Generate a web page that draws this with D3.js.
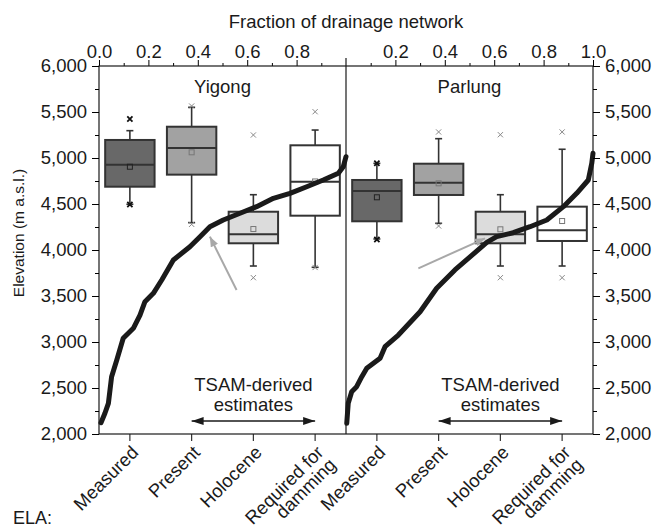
<!DOCTYPE html>
<html>
<head>
<meta charset="utf-8">
<script src="https://cdn.jsdelivr.net/npm/d3@7"></script>
<style>
body { margin: 0; background: #fff; }
text { font-family: "Liberation Sans", Arial, Helvetica, sans-serif; fill: #1a1a1a; }
</style>
</head>
<body>
<script>
var w = 657;
var h = 527;

var panels = ["Yigong", "Parlung"];
var categories = ["Measured", "Present", "Holocene", "Required for damming"];
var boxFills = ["#686868", "#a2a2a2", "#dcdcdc", "#ffffff"];

// [whisker low, q1, median, q3, whisker high, mean]
var yigongStats = [
  [4497, 4688, 4927, 5196, 5297, 4905],
  [4297, 4819, 5109, 5340, 5551, 5062],
  [3826, 4073, 4170, 4416, 4601, 4228],
  [3812, 4373, 4742, 5138, 5304, 4745]
];
var yigongOutliers = [[5424, 4495], [5565, 4279], [5250, 3699], [5503, 3810]];

var parlungStats = [
  [4120, 4312, 4641, 4761, 4942, 4573],
  [4290, 4598, 4732, 4938, 5210, 4725],
  [3826, 4073, 4170, 4416, 4601, 4225],
  [3826, 4098, 4214, 4471, 5095, 4315]
];
var parlungOutliers = [[4942, 4115], [5283, 4261], [5253, 3699], [5283, 3699]];

// hypsometric curves: fraction of drainage network vs elevation
var yigongFraction = [0.008, 0.024, 0.038, 0.051, 0.072, 0.098, 0.139, 0.166, 0.186, 0.220, 0.254, 0.301, 0.368, 0.409, 0.449, 0.503, 0.571, 0.638, 0.706, 0.773, 0.841, 0.908, 0.969, 0.989, 1.0];
var yigongElevation = [2123, 2225, 2333, 2623, 2804, 3040, 3149, 3293, 3438, 3529, 3674, 3891, 4036, 4145, 4253, 4326, 4399, 4471, 4562, 4616, 4688, 4761, 4834, 4905, 5014];
var parlungFraction = [0.003, 0.009, 0.023, 0.043, 0.064, 0.084, 0.138, 0.158, 0.212, 0.300, 0.367, 0.441, 0.515, 0.570, 0.610, 0.677, 0.745, 0.813, 0.880, 0.934, 0.981, 0.995, 1.0];
var parlungElevation = [2116, 2334, 2460, 2514, 2623, 2714, 2823, 2949, 3076, 3329, 3584, 3783, 3955, 4082, 4145, 4188, 4253, 4326, 4471, 4616, 4761, 4942, 5051];

// grey arrows [fraction, elevation] tail -> tip
var yigongArrow = [[0.557, 3565], [0.449, 4145]];
var parlungArrow = [[0.293, 3801], [0.563, 4127]];

var yTicks = d3.range(2000, 6001, 500);
var yMinor = d3.range(2250, 6000, 500);

var margin = {left: 99, right: 64, top: 66, bottom: 93};
var fs = 18.5;

var svg = d3.select("body").append("svg")
            .attr("width", w)
            .attr("height", h);

var defs = svg.append("defs");
defs.append("marker")
    .attr("id", "greyHead")
    .attr("viewBox", "0 0 10 8")
    .attr("refX", 10).attr("refY", 4)
    .attr("markerWidth", 10).attr("markerHeight", 8)
    .attr("markerUnits", "userSpaceOnUse")
    .attr("orient", "auto")
    .append("path").attr("d", "M0,0L10,4L0,8z").attr("fill", "#a8a8a8");
defs.append("marker")
    .attr("id", "blackHead")
    .attr("viewBox", "0 0 12 8")
    .attr("refX", 12).attr("refY", 4)
    .attr("markerWidth", 12).attr("markerHeight", 8)
    .attr("markerUnits", "userSpaceOnUse")
    .attr("orient", "auto-start-reverse")
    .append("path").attr("d", "M0,0L12,4L0,8z").attr("fill", "#1a1a1a");

var y = d3.scaleLinear()
          .domain([2000, 6000])
          .range([h - margin.bottom, margin.top]);

var panelX = d3.scaleBand()
               .domain(panels)
               .range([margin.left, w - margin.right]);

// Boxes and curves for one panel
function drawPanel(name, stats, outliers, frac, elev, arrow) {
  var x0 = panelX(name);
  var x1 = x0 + panelX.bandwidth();
  var xf = d3.scaleLinear().domain([0, 1]).range([x0, x1]);
  var xb = d3.scaleBand().domain(categories).range([x0, x1])
             .paddingInner(0.2).paddingOuter(0.1);
  var g = svg.append("g");
  var bw = xb.bandwidth();

  categories.forEach(function(c, i) {
    var s = stats[i];
    var cx = xb(c) + bw / 2;
    var dark = i == 0;
    // whiskers
    g.append("line").attr("x1", cx).attr("x2", cx)
     .attr("y1", y(s[0])).attr("y2", y(s[4]))
     .attr("stroke", "#333").attr("stroke-width", 1.6);
    [s[0], s[4]].forEach(function(v) {
      g.append("line").attr("x1", cx - 3.5).attr("x2", cx + 3.5)
       .attr("y1", y(v)).attr("y2", y(v))
       .attr("stroke", "#333").attr("stroke-width", 1.6);
    });
    // box
    g.append("rect")
     .attr("x", xb(c)).attr("width", bw)
     .attr("y", y(s[3])).attr("height", y(s[1]) - y(s[3]))
     .attr("fill", boxFills[i])
     .attr("stroke", "#333").attr("stroke-width", 2);
    g.append("line").attr("x1", xb(c)).attr("x2", xb(c) + bw)
     .attr("y1", y(s[2])).attr("y2", y(s[2]))
     .attr("stroke", "#333").attr("stroke-width", 2);
    // mean
    g.append("rect")
     .attr("x", cx - 2.5).attr("y", y(s[5]) - 2.5)
     .attr("width", 5).attr("height", 5)
     .attr("fill", "none")
     .attr("stroke", dark ? "#222" : "#777").attr("stroke-width", 1);
    // outliers
    outliers[i].forEach(function(v) {
      var r = 2.6, yy = y(v);
      g.append("path")
       .attr("d", "M" + (cx - r) + "," + (yy - r) + "L" + (cx + r) + "," + (yy + r) +
                  "M" + (cx - r) + "," + (yy + r) + "L" + (cx + r) + "," + (yy - r))
       .attr("stroke", dark ? "#111" : "#888")
       .attr("stroke-width", dark ? 1.8 : 1);
    });
  });

  // panel title
  g.append("text")
   .attr("x", (x0 + x1) / 2).attr("y", 93)
   .attr("text-anchor", "middle")
   .attr("font-size", fs)
   .text(name);

  // TSAM note
  var xm = xb(categories[2]) + bw / 2;
  g.append("text").attr("x", xm).attr("y", 391)
   .attr("text-anchor", "middle").attr("font-size", fs).text("TSAM-derived");
  g.append("text").attr("x", xm).attr("y", 411)
   .attr("text-anchor", "middle").attr("font-size", fs).text("estimates");
  g.append("line")
   .attr("x1", xb(categories[1]) + bw / 2).attr("x2", xb(categories[3]) + bw / 2)
   .attr("y1", 421).attr("y2", 421)
   .attr("stroke", "#1a1a1a").attr("stroke-width", 1.5)
   .attr("marker-start", "url(#blackHead)")
   .attr("marker-end", "url(#blackHead)");

  // hypsometric curve
  var line = d3.line()
               .x(function(d) { return xf(d[0]); })
               .y(function(d) { return y(d[1]); });
  g.append("path")
   .datum(d3.zip(frac, elev))
   .attr("d", line)
   .attr("fill", "none")
   .attr("stroke", "#1a1a1a")
   .attr("stroke-width", 5)
   .attr("stroke-linejoin", "round")
   .attr("stroke-linecap", "round");

  // grey arrow
  g.append("line")
   .attr("x1", xf(arrow[0][0])).attr("y1", y(arrow[0][1]))
   .attr("x2", xf(arrow[1][0])).attr("y2", y(arrow[1][1]))
   .attr("stroke", "#a8a8a8").attr("stroke-width", 2)
   .attr("marker-end", "url(#greyHead)");

  // bottom category ticks
  var bottom = svg.append("g")
                  .attr("transform", "translate(0," + (h - margin.bottom) + ")")
                  .call(d3.axisBottom(xb).tickSize(7).tickFormat(""));
  bottom.select(".domain").remove();
  bottom.selectAll("line").attr("stroke", "#333").attr("stroke-width", 1.2);

  categories.forEach(function(c) {
    var cx = xb(c) + bw / 2;
    var words = c == "Required for damming" ? ["Required for", "damming"] : [c];
    var t = svg.append("text")
               .attr("transform", "translate(" + (cx + 5) + "," + (h - margin.bottom + 15) + ") rotate(-45)")
               .attr("text-anchor", "end")
               .attr("font-size", fs);
    words.forEach(function(wd, k) {
      t.append("tspan").attr("x", 0).attr("dy", k == 0 ? "0.35em" : "0.95em").text(wd);
    });
  });

  // top fraction axis
  var majors = name == "Yigong" ? [0, 0.2, 0.4, 0.6, 0.8] : [0.2, 0.4, 0.6, 0.8, 1.0];
  var top = svg.append("g")
               .attr("transform", "translate(0," + margin.top + ")")
               .call(d3.axisTop(xf).tickValues(majors).tickSize(6).tickPadding(2)
                       .tickFormat(d3.format(".1f")));
  top.select(".domain").remove();
  top.selectAll("text").attr("font-size", fs).attr("font-family", null).attr("fill", "#1a1a1a");
  var topMinor = svg.append("g")
                    .attr("transform", "translate(0," + margin.top + ")")
                    .call(d3.axisTop(xf).tickValues([0.1, 0.3, 0.5, 0.7, 0.9]).tickSize(3).tickFormat(""));
  topMinor.select(".domain").remove();
}

drawPanel("Yigong", yigongStats, yigongOutliers, yigongFraction, yigongElevation, yigongArrow);
drawPanel("Parlung", parlungStats, parlungOutliers, parlungFraction, parlungElevation, parlungArrow);

// frame and divider
svg.append("rect")
   .attr("x", margin.left).attr("y", margin.top)
   .attr("width", w - margin.left - margin.right)
   .attr("height", h - margin.top - margin.bottom)
   .attr("fill", "none").attr("stroke", "#1a1a1a").attr("stroke-width", 1.2);
svg.append("line")
   .attr("x1", panelX("Parlung")).attr("x2", panelX("Parlung"))
   .attr("y1", margin.top - 8).attr("y2", h - margin.bottom)
   .attr("stroke", "#1a1a1a").attr("stroke-width", 1.2);

// elevation axes
var leftAxis = svg.append("g")
                  .attr("transform", "translate(" + margin.left + ",0)")
                  .call(d3.axisLeft(y).tickValues(yTicks).tickSize(7).tickPadding(5)
                          .tickFormat(d3.format(",")));
var leftMinor = svg.append("g")
                   .attr("transform", "translate(" + margin.left + ",0)")
                   .call(d3.axisLeft(y).tickValues(yMinor).tickSize(4).tickFormat(""));
var rightAxis = svg.append("g")
                   .attr("transform", "translate(" + (w - margin.right) + ",0)")
                   .call(d3.axisRight(y).tickValues(yTicks).tickSize(7).tickPadding(5)
                           .tickFormat(d3.format(",")));
var rightMinor = svg.append("g")
                    .attr("transform", "translate(" + (w - margin.right) + ",0)")
                    .call(d3.axisRight(y).tickValues(yMinor).tickSize(4).tickFormat(""));
[leftAxis, leftMinor, rightAxis, rightMinor].forEach(function(a) {
  a.select(".domain").remove();
  a.selectAll("text").attr("font-size", fs).attr("font-family", null).attr("fill", "#1a1a1a");
});

// titles
svg.append("text")
   .attr("x", (margin.left + w - margin.right) / 2).attr("y", 28)
   .attr("text-anchor", "middle").attr("font-size", fs)
   .text("Fraction of drainage network");
svg.append("text")
   .attr("transform", "translate(24," + 233 + ") rotate(-90)")
   .attr("text-anchor", "middle").attr("font-size", 15.5)
   .text("Elevation (m a.s.l.)");
svg.append("text")
   .attr("x", 13).attr("y", 524)
   .attr("font-size", 18)
   .text("ELA:");
</script>
</body>
</html>
